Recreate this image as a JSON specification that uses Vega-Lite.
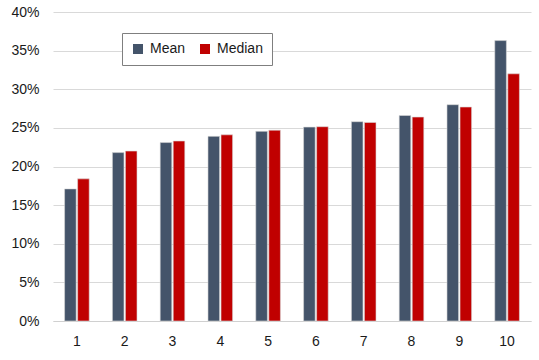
{
  "$schema": "https://vega.github.io/schema/vega-lite/v6.json",
  "width": 478,
  "height": 309,
  "autosize": {"type": "none"},
  "padding": {"left": 53, "top": 12, "right": 8, "bottom": 39},
  "background": "white",
  "config": {
    "view": {"stroke": null},
    "font": "Liberation Sans",
    "axis": {"labelFont": "Liberation Sans", "labelColor": "#1a1a1a", "labelFontSize": 14}
  },
  "data": {
    "values": [
      {"decile": "1", "stat": "Mean", "value": 0.171},
      {"decile": "1", "stat": "Median", "value": 0.184},
      {"decile": "2", "stat": "Mean", "value": 0.218},
      {"decile": "2", "stat": "Median", "value": 0.220},
      {"decile": "3", "stat": "Mean", "value": 0.231},
      {"decile": "3", "stat": "Median", "value": 0.233},
      {"decile": "4", "stat": "Mean", "value": 0.239},
      {"decile": "4", "stat": "Median", "value": 0.241},
      {"decile": "5", "stat": "Mean", "value": 0.2455},
      {"decile": "5", "stat": "Median", "value": 0.247},
      {"decile": "6", "stat": "Mean", "value": 0.251},
      {"decile": "6", "stat": "Median", "value": 0.2515},
      {"decile": "7", "stat": "Mean", "value": 0.258},
      {"decile": "7", "stat": "Median", "value": 0.257},
      {"decile": "8", "stat": "Mean", "value": 0.266},
      {"decile": "8", "stat": "Median", "value": 0.264},
      {"decile": "9", "stat": "Mean", "value": 0.280},
      {"decile": "9", "stat": "Median", "value": 0.277},
      {"decile": "10", "stat": "Mean", "value": 0.363},
      {"decile": "10", "stat": "Median", "value": 0.320}
    ]
  },
  "mark": {"type": "bar", "stroke": "#d8d8d8", "strokeWidth": 0.6},
  "encoding": {
    "x": {
      "field": "decile",
      "type": "ordinal",
      "sort": ["1","2","3","4","5","6","7","8","9","10"],
      "scale": {"paddingInner": 0.485, "paddingOuter": 0.2425},
      "axis": {
        "title": null,
        "labelAngle": 0,
        "ticks": false,
        "domain": true,
        "domainColor": "#d0d0d0",
        "labelPadding": 13,
        "grid": false
      }
    },
    "xOffset": {
      "field": "stat",
      "type": "nominal",
      "scale": {"paddingInner": 0.11, "paddingOuter": 0}
    },
    "y": {
      "field": "value",
      "type": "quantitative",
      "scale": {"domain": [0, 0.4], "nice": false},
      "axis": {
        "title": null,
        "format": ".0%",
        "values": [0, 0.05, 0.1, 0.15, 0.2, 0.25, 0.3, 0.35, 0.4],
        "ticks": false,
        "domain": false,
        "gridColor": "#d9d9d9",
        "gridWidth": 1,
        "labelPadding": 14
      }
    },
    "color": {
      "field": "stat",
      "type": "nominal",
      "scale": {"domain": ["Mean", "Median"], "range": ["#44546a", "#c00000"]},
      "legend": {
        "title": null,
        "orient": "none",
        "legendX": 69,
        "legendY": 21,
        "direction": "horizontal",
        "symbolType": "square",
        "symbolSize": 100,
        "symbolStrokeWidth": 0,
        "labelFontSize": 14,
        "labelColor": "#1a1a1a",
        "labelOffset": 5,
        "columnPadding": 12,
        "padding": 9,
        "strokeColor": "#7f7f7f",
        "fillColor": "white"
      }
    }
  }
}
